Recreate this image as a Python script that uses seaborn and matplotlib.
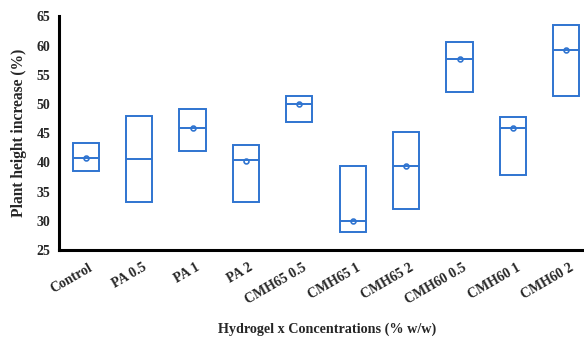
import matplotlib
matplotlib.use("Agg")
import matplotlib.pyplot as plt
import matplotlib.transforms as mtransforms
import seaborn as sns
import pandas as pd
import numpy as np

categories = ["Control", "PA 0.5", "PA 1", "PA 2", "CMH65 0.5", "CMH65 1",
              "CMH65 2", "CMH60 0.5", "CMH60 1", "CMH60 2"]
box_bottom = [38.5, 33.3, 42.0, 33.3, 47.0, 28.1, 32.1, 52.0, 37.9, 51.3]
box_median = [40.8, 40.5, 45.9, 40.4, 50.0, 30.0, 39.4, 57.7, 45.9, 59.3]
box_top    = [43.3, 47.9, 49.1, 42.9, 51.3, 39.4, 45.2, 60.6, 47.8, 63.6]
mean_vals  = [40.8, np.nan, 45.9, 40.2, 50.0, 30.0, 39.4, 57.7, 45.9, 59.3]
y_ticks = [25, 30, 35, 40, 45, 50, 55, 60, 65]

BLUE = "#2F74D0"

sns.set_style("white")
plt.rcParams["font.family"] = ["Liberation Serif", "DejaVu Serif"]
plt.rcParams["font.weight"] = "bold"

# five-value table per group so that Q1 = bottom, median = median, Q3 = top
rows = []
for c, b, m, t in zip(categories, box_bottom, box_median, box_top):
    for v in (b, b, m, t, t):
        rows.append({"group": c, "value": v})
df = pd.DataFrame(rows)

fig = plt.figure(figsize=(5.84, 3.38), dpi=100)
ax = fig.add_axes([0.101, 0.2604, 0.899, 0.691])

sns.boxplot(data=df, x="group", y="value", order=categories, ax=ax,
            whis=0, showcaps=False, showfliers=False, width=0.49,
            boxprops=dict(facecolor="white", edgecolor=BLUE, linewidth=1.4),
            medianprops=dict(color=BLUE, linewidth=1.4),
            whiskerprops=dict(linewidth=0))

sns.pointplot(x=categories, y=mean_vals, order=categories, ax=ax,
              linestyle="none", marker="o", color=BLUE, errorbar=None,
              markersize=3.5, markerfacecolor="none", markeredgewidth=1.2)

ax.set_ylim(25, 65)
ax.set_yticks(y_ticks)
ax.set_yticklabels([str(v) for v in y_ticks], fontsize=10, fontweight="bold")
ax.set_xlim(-0.5, 9.33)
ax.set_xticks(range(len(categories)))
ax.set_xticklabels(categories, rotation=30, ha="right", rotation_mode="anchor",
                   fontsize=10, fontweight="bold")
ax.tick_params(axis="x", length=0, pad=8)
ax.tick_params(axis="y", length=0, pad=6)
offset = mtransforms.ScaledTranslation(3 / 100, 0, fig.dpi_scale_trans)
for lab in ax.get_xticklabels():
    lab.set_transform(lab.get_transform() + offset)

for s in ["top", "right"]:
    ax.spines[s].set_visible(False)
for s in ["left", "bottom"]:
    ax.spines[s].set_color("black")
    ax.spines[s].set_linewidth(2.2)

ax.set_xlabel("Hydrogel x Concentrations (% w/w)", fontsize=10.2,
              fontweight="bold")
ax.xaxis.set_label_coords((327 - 59) / 525, -(329 - 250) / 233.6)
ax.xaxis.label.set_va("center")
ax.set_ylabel("Plant height increase (%)", fontsize=11.2, fontweight="bold")
ax.yaxis.set_label_coords((19 - 59) / 525, (250 - 133) / 233.6)
ax.yaxis.label.set_va("center")
ax.grid(False)

fig.savefig("out.png", dpi=100)
